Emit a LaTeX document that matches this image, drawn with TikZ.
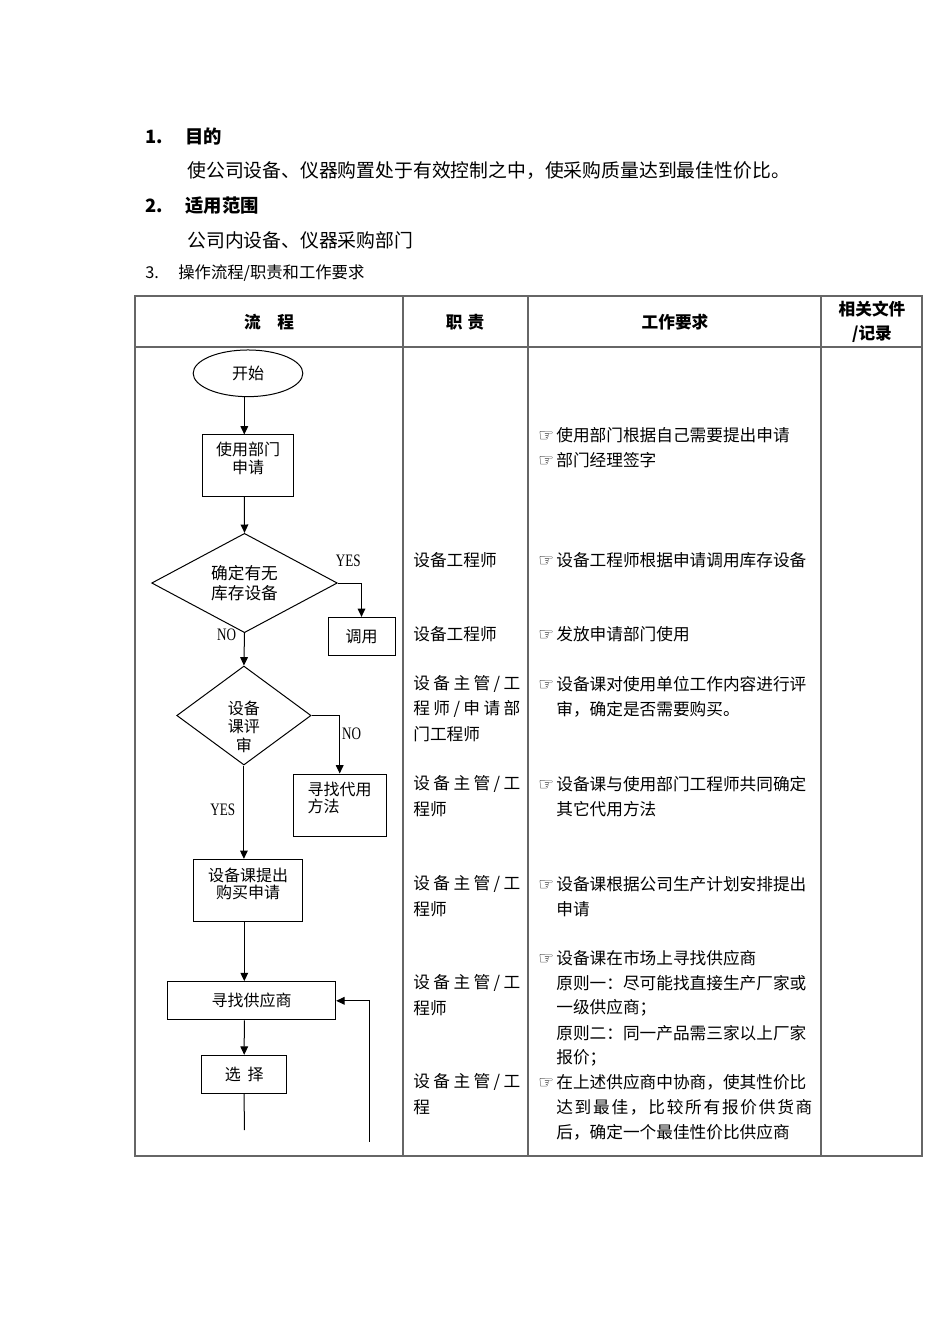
\documentclass[tikz,border=0pt]{standalone}
\usepackage{fontspec}
\setmainfont{Noto Sans CJK SC}
\newfontfamily\ynfont{Liberation Serif}[FakeStretch=0.75]
\newfontfamily\handfont{DejaVu Sans}
\usetikzlibrary{shapes.geometric, arrows.meta}
\tikzset{>={Triangle[length=5pt,width=4.6pt]}}
\newcommand\hand{\makebox[10.8pt][l]{\handfont\fontsize{10.5}{10}\selectfont ☞}}
\makeatletter
\newcommand\spreadto[2]{\makebox[#1][s]{\spread@#2\@nil}}
\def\spread@#1#2{#1\ifx#2\@nil\expandafter\@gobble\else\hfill\expandafter\spread@\fi#2}
\makeatother

\begin{document}
\begin{tikzpicture}[x=0.6pt, y=-0.6pt,
    head/.style={font=\bfseries\fontsize{11}{13}\selectfont, inner sep=0pt, anchor=west},
    body/.style={font=\fontsize{11.3}{14}\selectfont, inner sep=0pt, anchor=west},
    sub/.style={font=\fontsize{9.8}{12}\selectfont, inner sep=0pt, anchor=west},
    hdr/.style={font=\bfseries\fontsize{10}{14.4}\selectfont, inner sep=0pt, align=center},
    tableline/.style={draw=black!60, line width=0.9pt},
    flow/.style={draw, line width=0.6pt, inner sep=1pt, align=center, font=\fontsize{9.6}{10}\selectfont},
    ftxt/.style={inner sep=0pt, font=\fontsize{9.6}{10.4}\selectfont},
    yn/.style={inner sep=0pt, font=\ynfont\fontsize{10.5}{10.5}\selectfont},
    cell/.style={anchor=west, inner sep=0pt, font=\fontsize{10}{12}\selectfont},
    link/.style={line width=0.6pt}]
    \useasboundingbox (0,0) rectangle (950,1344);
    \node[head] (n1) at (145,137) {1.};
    \node[head] (t1) at (185,137) {目的};
    \node[body] (p1) at (187,171) {使公司设备、仪器购置处于有效控制之中，使采购质量达到最佳性价比。};
    \node[head] (n2) at (145,206) {2.};
    \node[head] (t2) at (185,206) {适用范围};
    \node[body] (p2) at (187,240) {公司内设备、仪器采购部门};
    \node[sub] (n3) at (145,273) {3.};
    \node[sub] (t3) at (178,273) {操作流程/职责和工作要求};
    \draw[tableline] (135,296) rectangle (922,1156);
    \draw[tableline] (135,347) -- (922,347);
    \foreach \x in {403,528,821} \draw[tableline] (\x,296) -- (\x,1156);
    \node[hdr] (h1) at (269,322) {流\hspace{1em}程};
    \node[hdr] (h2) at (465,322) {职\hspace{3pt}责};
    \node[hdr] (h3) at (675,322) {工作要求};
    \node[hdr] (h4) at (872,322) {相关文件\\/记录};
    \coordinate (trunk) at (244.3,0);
    \node[flow, ellipse, minimum width=65.8pt, minimum height=28pt] (start) at (248,373.3) {开始};
    \node[flow, minimum width=54.8pt, minimum height=37pt,
        label={[ftxt, align=center, yshift=4.5pt]center:使用部门\\申请}] (apply) at (248,465.8) {};
    \node[flow, diamond, aspect=1.87, minimum width=111.4pt, minimum height=59.6pt,
        font=\fontsize{10}{12}\selectfont] (check) at (244.5,583) {确定有无\\库存设备};
    \node[flow, minimum width=40.2pt, minimum height=22.6pt] (reuse) at (361.5,636.2) {调用};
    \node[flow, diamond, aspect=1.36, minimum width=80.6pt, minimum height=59.4pt,
        label={[ftxt, align=center, yshift=-6.7pt, font=\fontsize{9.6}{11.1}\selectfont]center:设备\\课评\\审}] (review) at (243.9,715.5) {};
    \node[flow, minimum width=55.6pt, minimum height=37.2pt,
        label={[ftxt, align=left, yshift=4.2pt]center:寻找代用\\方法}] (alt) at (339.7,805) {};
    \node[flow, minimum width=65.6pt, minimum height=37.4pt,
        label={[ftxt, align=center, yshift=3.9pt]center:设备课提出\\购买申请}] (buy) at (248,890.5) {};
    \node[flow, minimum width=100.8pt, minimum height=23pt] (supplier) at (251.7,1000.8) {寻找供应商};
    \node[flow, minimum width=51pt, minimum height=22.8pt] (choose) at (244.2,1074.3) {选\hspace{4pt}择};
    \coordinate (chooseend) at (244.3,1130);
    \coordinate (loopend) at (369,1141.7);
    \draw[link, ->] (start.south -| trunk) -- (apply.north -| trunk);
    \draw[link, ->] (apply.south -| trunk) -- (check.north);
    \draw[link, ->] (check.south) -- (review.north);
    \draw[link, ->] (check.east) -| (reuse.north);
    \draw[link, ->] (review.east) -| (alt.north);
    \draw[link, ->] (review.south) -- (buy.north -| review.south);
    \draw[link, ->] (buy.south -| trunk) -- (supplier.north -| trunk);
    \draw[link, ->] (supplier.south -| trunk) -- (choose.north);
    \draw[link] (choose.south) -- (chooseend);
    \draw[link, ->] (loopend) |- (supplier.east);
    \node[yn] (yes1) at (348.3,560.7) {YES};
    \node[yn] (no1) at (226.7,635) {NO};
    \node[yn] (no2) at (351.7,734) {NO};
    \node[yn] (yes2) at (222.7,809.3) {YES};
    \foreach \y/\t [count=\i] in {560/{设备工程师}, 634/{设备工程师},
        684/{\spreadto{64.2pt}{设备主管/工}}, 709/{\spreadto{64.2pt}{程师/申请部}}, 734/{门工程师},
        784/{\spreadto{64.2pt}{设备主管/工}}, 809/{程师},
        884/{\spreadto{64.2pt}{设备主管/工}}, 909/{程师},
        983/{\spreadto{64.2pt}{设备主管/工}}, 1008/{程师},
        1082/{\spreadto{64.2pt}{设备主管/工}}, 1107/{程}}
        \node[cell] (duty\i) at (413,\y) {\t};
    \foreach \x/\y/\t [count=\i] in {538/435/{\hand 使用部门根据自己需要提出申请}, 538/460/{\hand 部门经理签字},
        538/560/{\hand 设备工程师根据申请调用库存设备}, 538/634/{\hand 发放申请部门使用},
        538/684/{\hand 设备课对使用单位工作内容进行评}, 556/709/{审，确定是否需要购买。},
        538/784/{\hand 设备课与使用部门工程师共同确定}, 556/809/{其它代用方法},
        538/884/{\hand 设备课根据公司生产计划安排提出}, 556/909/{申请},
        538/958/{\hand 设备课在市场上寻找供应商}, 556/983/{原则一：尽可能找直接生产厂家或},
        556/1008/{一级供应商；}, 556/1033/{原则二：同一产品需三家以上厂家}, 556/1058/{报价；},
        538/1082/{\hand 在上述供应商中协商，使其性价比},
        556/1107/{\spreadto{153.6pt}{达到最佳，比较所有报价供货商}},
        556/1132/{后，确定一个最佳性价比供应商}}
        \node[cell] (work\i) at (\x,\y) {\t};
\end{tikzpicture}
\end{document}
